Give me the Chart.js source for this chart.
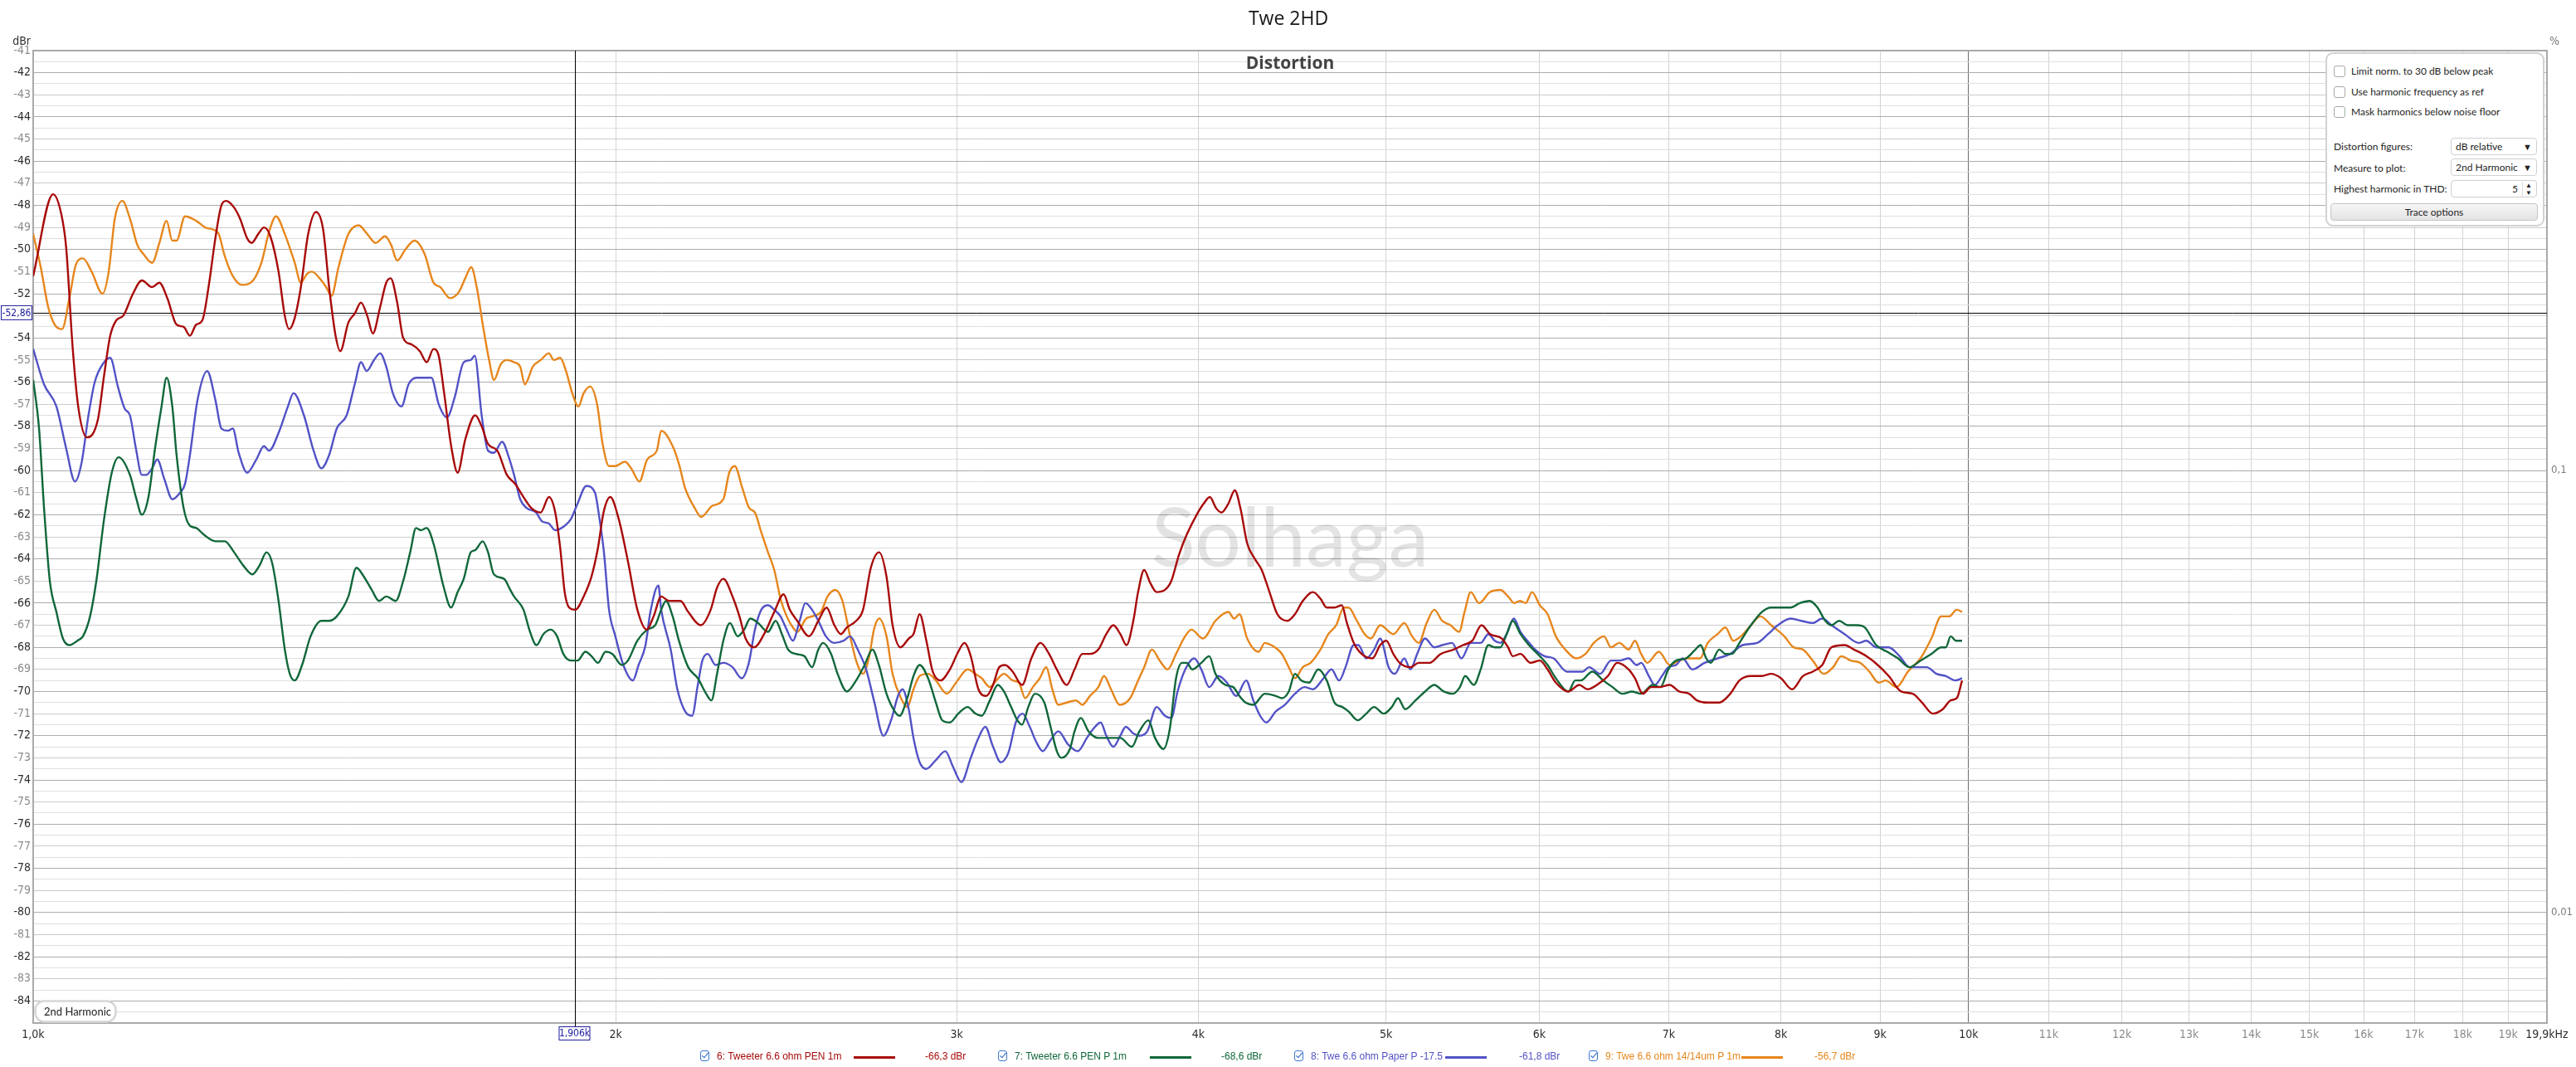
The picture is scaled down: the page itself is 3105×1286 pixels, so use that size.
<!DOCTYPE html>
<html>
<head>
<meta charset="utf-8">
<title>Twe 2HD</title>
<script src="https://cdn.jsdelivr.net/npm/chart.js@4.4.1/dist/chart.umd.min.js"></script>
<style>
  body { margin: 0; background: #fff; }
  #wrap { position: relative; width: 3105px; height: 1286px; overflow: hidden; }
  #chart { position: absolute; left: 0; top: 0; }
  #panel {
    position: absolute; left: 2803px; top: 63px; width: 264px; height: 210px;
    box-sizing: border-box; border: 2px solid #d2d2d2; border-radius: 9px; background: #fff;
    font: 12px Lato, "Open Sans", sans-serif; color: #1e1e1e;
  }
  #panel .row { position: absolute; left: 8px; height: 16px; line-height: 16px; white-space: nowrap; }
  #panel .cb {
    display: inline-block; width: 12px; height: 12px; border: 1px solid #a8a8a8; border-radius: 3px;
    vertical-align: -3px; margin-right: 7px; background: #fff;
  }
  #panel .drop {
    position: absolute; left: 149px; width: 104px; height: 21px; box-sizing: border-box;
    border: 1px solid #d0d0d0; border-radius: 4px; line-height: 19px; padding-left: 5px; background: #fff;
  }
  #panel .drop .arr { position: absolute; right: 5px; top: 0; font-size: 11px; color: #222; }
  #panel .btn {
    position: absolute; left: 4px; top: 180px; width: 250px; height: 21px; box-sizing: border-box;
    border: 1px solid #c4c4c4; border-radius: 4px; background: linear-gradient(#f6f6f6, #e3e3e3);
    text-align: center; line-height: 19px;
  }
  .lg { position: absolute; top: 1266px; height: 16px; line-height: 16px; white-space: nowrap;
        font: 12px "Liberation Sans Narrow", "Liberation Sans", Arial, sans-serif; }
  .lg-check {
    position: absolute; top: 1266px; width: 11px; height: 13px; box-sizing: border-box;
    border: 1.5px solid #3b78d4; border-radius: 3px; background: #fff;
  }
  .lg-check::after {
    content: ''; position: absolute; left: 2.5px; top: 0px; width: 3px; height: 7px;
    border: solid #2a62c8; border-width: 0 1.8px 1.8px 0; transform: rotate(40deg);
  }
  .lg-line { position: absolute; top: 1273px; width: 50px; height: 3px; }
</style>
</head>
<body>
<div id="wrap">
  <canvas id="chart" width="3105" height="1286"></canvas>
  <div id="panel">
    <div class="row" style="top:13px"><span class="cb"></span>Limit norm. to 30 dB below peak</div>
    <div class="row" style="top:38px"><span class="cb"></span>Use harmonic frequency as ref</div>
    <div class="row" style="top:62px"><span class="cb"></span>Mask harmonics below noise floor</div>
    <div class="row" style="top:104px">Distortion figures:</div>
    <div class="drop" style="top:101px">dB relative<span class="arr">&#9660;</span></div>
    <div class="row" style="top:130px">Measure to plot:</div>
    <div class="drop" style="top:126px">2nd Harmonic<span class="arr">&#9660;</span></div>
    <div class="row" style="top:155px">Highest harmonic in THD:</div>
    <div class="drop" style="top:152px; text-align:right; padding-right:22px;">5<span class="arr" style="border-left:1px solid #ddd; padding-left:3px; font-size:8px; line-height:9px; top:1px;">&#9650;<br>&#9660;</span></div>
    <div class="btn">Trace options</div>
  </div>
  <div id="legend"></div>
</div>
<script>
// ---- data (frequency in Hz, level in dBr) ----
const seriesNames = ['6: Tweeter 6.6 ohm PEN 1m', '7: Tweeter 6.6 PEN P 1m', '8: Twe 6.6 ohm Paper P -17.5', '9: Twe 6.6 ohm 14/14um P 1m'];
const seriesColors = ['#a80a0a', '#10673a', '#5252c6', '#e6861c'];
const cursorValues = ['-66,3 dBr', '-68,6 dBr', '-61,8 dBr', '-56,7 dBr'];
const cursorFreq = 1906;
const cursorLevel = -52.86;

const xTickValues = [1000, 2000, 3000, 4000, 5000, 6000, 7000, 8000, 9000, 10000, 11000, 12000, 13000, 14000, 15000, 16000, 17000, 18000, 19000, 19900];
const xTickLabels = ['1,0k', '2k', '3k', '4k', '5k', '6k', '7k', '8k', '9k', '10k', '11k', '12k', '13k', '14k', '15k', '16k', '17k', '18k', '19k', '19,9kHz'];
const pctTickValues = [-60, -80];
const pctTickLabels = ['0,1', '0,01'];

const redFreq = [1000, 1024, 1034, 1040, 1048, 1055, 1066, 1080, 1088, 1096, 1104, 1113, 1126, 1138, 1152, 1162, 1173, 1186, 1196, 1205, 1214, 1223, 1232, 1242, 1251, 1258, 1270, 1279, 1290, 1297, 1307, 1316, 1326, 1339, 1349, 1356, 1365, 1375, 1387, 1400, 1412, 1422, 1433, 1441, 1455, 1466, 1477, 1488, 1498, 1511, 1522, 1530, 1542, 1553, 1569, 1584, 1597, 1610, 1620, 1630, 1645, 1657, 1672, 1692, 1705, 1718, 1737, 1757, 1774,
  1792, 1809, 1829, 1847, 1861, 1872, 1882, 1892, 1906, 1925, 1943, 1958, 1971, 1987, 2007, 2029, 2052, 2075, 2092, 2111, 2131, 2160, 2180, 2213, 2239, 2256, 2273, 2298, 2317, 2334, 2358, 2386, 2415, 2442, 2460, 2482, 2517, 2545, 2570, 2594, 2614, 2633, 2662, 2684, 2709, 2736, 2760, 2780, 2806, 2834, 2850, 2871, 2894, 2916, 2943, 2976, 3006, 3028, 3051, 3079, 3108, 3133, 3156, 3178,
  3207, 3243, 3279, 3315, 3349, 3380, 3420, 3452, 3484, 3516, 3551, 3585, 3615, 3645, 3672, 3702, 3723, 3750, 3778, 3806, 3844, 3873, 3909, 3945, 3992, 4025, 4055, 4085, 4112, 4145, 4177, 4205, 4239, 4278, 4313, 4353, 4394, 4447, 4487, 4529, 4584, 4625, 4660, 4703, 4744, 4773, 4812, 4857, 4920, 4966, 5002, 5044, 5082, 5148, 5199, 5267, 5336, 5419, 5480, 5541, 5602, 5659,
  5739, 5782, 5814, 5868, 5938, 6005, 6060, 6120, 6212, 6293, 6355, 6451, 6511, 6583, 6674, 6724, 6787, 6854, 6918, 7008, 7087, 7171, 7238, 7332, 7433, 7531, 7614, 7719, 7820, 7907, 8000, 8106, 8211, 8308, 8402, 8495, 8628, 8725, 8855, 8976, 9094, 9229, 9357, 9462, 9584, 9698, 9789, 9861, 9923];
const redLevel = [-51.2, -47.5, -48.4, -49.9, -54.4, -57.1, -58.5, -57.7, -55.7, -53.9, -53.2, -53.0, -52.0, -51.4, -51.7, -51.5, -52.2, -53.4, -53.5, -53.9, -53.4, -53.2, -51.7, -49.5, -48.0, -47.8, -48.1, -48.6, -49.5, -49.7, -49.3, -49.0, -49.4, -51.0, -53.0, -53.6, -53.1, -51.7, -49.3, -48.3, -49.1, -51.7, -53.9, -54.6, -53.3, -52.9, -52.4, -53.0, -53.8, -52.6, -51.5, -51.3, -52.4, -54.0, -54.3, -54.6, -55.1, -54.5, -54.8, -56.4, -59.0, -60.1, -58.6, -57.5, -58.0, -58.8, -59.1, -60.2, -60.6,
  -61.2, -61.7, -61.9, -61.2, -61.9, -63.5, -65.5, -66.2, -66.3, -65.7, -64.8, -63.5, -61.9, -61.2, -62.2, -64.1, -66.3, -67.2, -66.6, -65.7, -65.9, -65.9, -66.4, -67.0, -66.3, -65.3, -64.9, -65.7, -66.6, -67.6, -68.0, -67.4, -66.4, -65.6, -66.3, -66.8, -67.5, -66.8, -66.2, -67.0, -67.4, -67.1, -66.8, -66.3, -64.4, -63.7, -64.8, -67.0, -68.0, -67.6, -67.4, -66.5, -67.7, -69.1, -69.5, -69.0, -68.2, -67.8, -68.4, -69.9, -70.2, -69.7, -68.9, -68.8,
  -69.1, -69.7, -68.5, -67.8, -68.3, -69.0, -69.7, -69.0, -68.3, -68.3, -68.1, -67.4, -67.0, -67.4, -67.9, -66.8, -65.5, -64.5, -65.1, -65.5, -65.4, -65.0, -63.8, -62.9, -62.0, -61.5, -61.2, -61.7, -61.9, -61.5, -60.9, -61.7, -63.3, -64.0, -64.5, -65.5, -66.5, -66.8, -66.5, -65.9, -65.5, -65.8, -66.2, -66.2, -66.1, -66.9, -67.8, -68.3, -68.5, -67.9, -67.7, -68.3, -68.7, -68.9, -68.7, -68.7, -68.3, -68.1, -67.9, -67.7, -67.0, -67.4,
  -67.6, -68.0, -68.4, -68.3, -68.7, -68.6, -69.0, -69.6, -70.0, -69.7, -69.9, -69.6, -69.3, -68.7, -69.0, -69.4, -70.1, -69.8, -69.8, -69.7, -70.0, -70.1, -70.4, -70.5, -70.5, -70.1, -69.5, -69.3, -69.3, -69.2, -69.4, -69.9, -69.3, -69.1, -68.8, -68.0, -67.9, -68.1, -68.4, -68.8, -69.3, -70.0, -70.1, -70.5, -71.0, -70.8, -70.4, -70.3, -69.5];

const greenFreq = [1000, 1007, 1013, 1020, 1028, 1036, 1044, 1054, 1061, 1070, 1078, 1088, 1098, 1107, 1122, 1130, 1138, 1147, 1156, 1165, 1172, 1180, 1186, 1196, 1205, 1214, 1225, 1242, 1256, 1270, 1284, 1298, 1309, 1320, 1329, 1339, 1349, 1357, 1365, 1377, 1391, 1409, 1422, 1435, 1455, 1469, 1482, 1496, 1509, 1522, 1539, 1553, 1566, 1577, 1586, 1597, 1610, 1630, 1644, 1657, 1669, 1683, 1692, 1707, 1718, 1730, 1751, 1764,
  1772, 1792, 1806, 1820, 1835, 1851, 1865, 1879, 1896, 1911, 1929, 1943, 1958, 1976, 1992, 2014, 2029, 2052, 2076, 2096, 2111, 2123, 2140, 2156, 2180, 2205, 2227, 2241, 2256, 2273, 2291, 2312, 2330, 2347, 2369, 2397, 2419, 2437, 2455, 2478, 2503, 2526, 2545, 2559, 2584, 2604, 2633, 2662, 2689, 2714, 2735, 2760, 2787, 2803, 2829, 2850, 2871, 2900, 2927, 2949, 2976, 3006, 3040, 3068, 3091, 3121, 3151, 3174,
  3201, 3225, 3243, 3267, 3293, 3330, 3355, 3380, 3398, 3433, 3452, 3478, 3510, 3551, 3591, 3645, 3695, 3729, 3769, 3799, 3837, 3866, 3895, 3923, 3945, 3971, 4014, 4052, 4082, 4130, 4169, 4200, 4231, 4270, 4329, 4386, 4418, 4454, 4487, 4521, 4563, 4613, 4660, 4703, 4747, 4782, 4835, 4884, 4930, 4987, 5035, 5072, 5116, 5179, 5238, 5296, 5355, 5415, 5460, 5494, 5551, 5596, 5648, 5691,
  5729, 5772, 5814, 5868, 5927, 6005, 6060, 6120, 6212, 6263, 6305, 6391, 6475, 6547, 6625, 6699, 6774, 6867, 6931, 6996, 7061, 7144, 7225, 7270, 7319, 7359, 7433, 7488, 7545, 7614, 7704, 7820, 7907, 8000, 8091, 8181, 8277, 8355, 8433, 8495, 8573, 8660, 8758, 8838, 8959, 9077, 9195, 9322, 9444, 9567, 9680, 9734, 9789, 9851, 9923];
const greenLevel = [-55.9, -58.1, -61.7, -65.0, -66.4, -67.6, -67.9, -67.7, -67.5, -66.6, -65.0, -62.2, -60.1, -59.4, -60.2, -61.2, -62.0, -61.2, -59.0, -57.1, -55.8, -57.1, -59.3, -61.7, -62.5, -62.6, -62.9, -63.2, -63.2, -63.7, -64.3, -64.7, -64.3, -63.7, -64.2, -65.9, -68.1, -69.2, -69.5, -68.8, -67.5, -66.8, -66.8, -66.6, -65.7, -64.4, -64.8, -65.4, -65.9, -65.7, -65.9, -65.0, -63.7, -62.6, -62.7, -62.6, -63.3, -65.3, -66.2, -65.5, -64.9, -63.7, -63.6, -63.2, -63.7, -64.7, -64.9, -65.4,
  -65.7, -66.3, -67.3, -67.9, -67.4, -67.2, -67.5, -68.3, -68.6, -68.6, -68.2, -68.4, -68.7, -68.2, -68.3, -68.8, -68.6, -67.7, -67.2, -67.0, -66.3, -65.9, -66.6, -67.7, -68.9, -69.4, -70.1, -70.4, -69.2, -67.7, -66.9, -67.5, -67.2, -66.7, -66.9, -67.3, -66.8, -67.4, -68.1, -68.3, -68.4, -68.9, -68.1, -67.8, -68.3, -69.2, -70.0, -69.5, -68.8, -68.1, -68.8, -70.1, -70.9, -71.1, -70.3, -69.3, -68.8, -69.4, -70.5, -71.3, -71.4, -71.0, -70.7, -71.0, -71.1, -70.4, -69.7, -70.0,
  -70.7, -71.3, -71.5, -70.7, -70.1, -70.5, -71.6, -72.7, -73.0, -72.6, -71.8, -71.2, -71.8, -72.1, -72.1, -72.1, -72.5, -71.8, -71.3, -72.1, -72.6, -71.7, -69.4, -68.7, -68.7, -69.0, -68.7, -68.4, -69.2, -69.7, -69.8, -70.2, -70.5, -70.6, -70.1, -70.2, -70.3, -70.0, -69.2, -69.5, -69.6, -69.0, -69.5, -70.5, -70.7, -70.9, -71.3, -71.0, -70.7, -71.0, -70.7, -70.3, -70.8, -70.4, -70.0, -69.7, -70.0, -70.1, -69.8, -69.3, -69.7, -69.0, -67.9, -68.0,
  -68.0, -67.4, -66.8, -67.4, -67.9, -68.4, -68.8, -69.4, -70.0, -69.5, -69.5, -69.1, -69.5, -69.8, -70.1, -70.0, -70.1, -69.7, -69.8, -69.0, -68.6, -68.5, -68.1, -67.9, -68.5, -68.7, -68.1, -68.3, -68.3, -67.8, -67.1, -66.4, -66.2, -66.2, -66.2, -66.0, -65.9, -66.2, -66.8, -67.0, -66.8, -67.0, -67.0, -67.1, -67.9, -68.2, -68.5, -68.9, -68.6, -68.3, -68.0, -68.0, -67.5, -67.7, -67.7];

const blueFreq = [1000, 1013, 1028, 1040, 1051, 1059, 1068, 1076, 1088, 1096, 1106, 1115, 1122, 1130, 1138, 1144, 1152, 1159, 1169, 1180, 1191, 1198, 1205, 1216, 1230, 1242, 1251, 1261, 1268, 1277, 1290, 1304, 1316, 1324, 1339, 1354, 1363, 1380, 1396, 1409, 1422, 1435, 1452, 1466, 1477, 1487, 1500, 1511, 1522, 1534, 1550, 1563, 1578, 1593, 1606, 1620, 1636, 1651, 1669, 1683, 1691, 1705, 1718, 1730, 1747, 1761,
  1772, 1785, 1799, 1819, 1832, 1847, 1861, 1882, 1896, 1911, 1931, 1951, 1961, 1972, 1984, 1999, 2018, 2041, 2055, 2072, 2084, 2104, 2111, 2135, 2152, 2172, 2190, 2205, 2217, 2231, 2252, 2273, 2298, 2323, 2343, 2360, 2378, 2397, 2415, 2433, 2451, 2469, 2489, 2506, 2526, 2545, 2568, 2594, 2623, 2643, 2667, 2694, 2719, 2750, 2775, 2798, 2813, 2834, 2850, 2871, 2894, 2927, 2960, 2987, 3017, 3051, 3079, 3104, 3133, 3162, 3186,
  3195, 3219, 3245, 3273, 3299, 3324, 3355, 3386, 3426, 3465, 3503, 3529, 3561, 3585, 3615, 3645, 3669, 3702, 3729, 3764, 3806, 3844, 3873, 3902, 3938, 3980, 4014, 4052, 4097, 4138, 4184, 4234, 4270, 4305, 4337, 4386, 4434, 4487, 4538, 4584, 4642, 4686, 4729, 4765, 4812, 4839, 4884, 4930, 4966, 5016, 5053, 5110, 5148, 5189, 5238, 5296, 5346, 5409, 5470, 5531, 5596, 5648, 5691,
  5729, 5772, 5821, 5868, 5916, 5971, 6038, 6104, 6201, 6270, 6317, 6367, 6451, 6535, 6600, 6674, 6737, 6774, 6836, 6884, 6944, 6996, 7061, 7117, 7198, 7305, 7419, 7531, 7642, 7776, 7878, 7970, 8091, 8196, 8308, 8402, 8495, 8628, 8774, 8855, 8959, 9094, 9212, 9322, 9409, 9514, 9626, 9734, 9843, 9923];
const blueLevel = [-54.5, -56.1, -57.1, -59.0, -60.5, -59.7, -57.5, -56.0, -55.1, -54.9, -56.2, -57.2, -57.5, -59.0, -60.2, -60.2, -59.9, -59.5, -60.4, -61.3, -61.0, -60.6, -59.3, -56.8, -55.5, -56.8, -58.1, -58.2, -58.1, -59.2, -60.1, -59.5, -58.9, -59.1, -58.3, -57.1, -56.5, -57.5, -59.1, -59.9, -59.3, -58.1, -57.5, -56.1, -55.1, -55.5, -55.0, -54.7, -55.3, -56.5, -57.1, -56.1, -55.8, -55.8, -55.8, -57.0, -57.6, -56.7, -55.1, -55.0, -54.8, -57.5, -59.1, -59.2, -58.7, -59.4,
  -60.2, -61.3, -61.7, -61.9, -62.3, -62.4, -62.7, -62.5, -62.2, -61.5, -60.7, -61.0, -62.1, -63.7, -66.3, -67.5, -68.8, -69.5, -68.8, -67.9, -66.4, -65.2, -66.3, -68.1, -69.9, -70.9, -71.1, -69.7, -68.6, -68.3, -68.8, -68.7, -68.9, -69.4, -68.7, -67.2, -66.3, -66.1, -66.3, -66.6, -67.2, -67.7, -66.8, -66.0, -66.3, -66.8, -67.5, -67.8, -67.7, -67.5, -68.1, -69.0, -70.4, -72.0, -71.3, -70.2, -69.9, -70.8, -72.1, -73.2, -73.5, -73.1, -72.7, -73.4, -74.1, -73.0, -72.1, -71.6, -72.5, -73.2, -72.9,
  -72.6, -71.4, -71.0, -71.6, -72.3, -72.7, -72.2, -71.8, -72.4, -72.7, -72.1, -71.7, -71.4, -72.0, -72.5, -72.0, -71.6, -71.9, -72.0, -71.8, -70.7, -71.1, -71.2, -70.0, -69.0, -68.5, -69.0, -69.8, -69.3, -69.6, -70.2, -69.5, -70.4, -71.1, -71.4, -70.9, -70.6, -70.1, -69.8, -69.9, -69.4, -69.0, -69.5, -68.9, -67.9, -67.9, -68.5, -68.1, -67.6, -68.9, -69.2, -68.5, -69.0, -68.3, -67.6, -68.0, -67.9, -67.8, -68.5, -67.8, -67.8, -67.4, -67.7,
  -67.8, -67.4, -66.7, -67.3, -67.7, -68.1, -68.4, -68.5, -69.1, -69.1, -69.1, -68.9, -69.2, -68.6, -68.6, -68.5, -68.8, -68.7, -69.3, -69.7, -69.3, -68.9, -68.8, -68.5, -69.0, -68.7, -68.5, -68.3, -67.9, -67.8, -67.4, -67.0, -66.7, -66.8, -66.9, -66.7, -67.0, -67.4, -67.8, -67.7, -68.0, -68.0, -68.4, -68.9, -68.9, -68.9, -69.2, -69.3, -69.5, -69.4];

const orangeFreq = [1000, 1009, 1018, 1026, 1035, 1044, 1052, 1061, 1072, 1086, 1094, 1102, 1112, 1122, 1132, 1140, 1152, 1162, 1172, 1180, 1186, 1198, 1214, 1227, 1239, 1247, 1256, 1268, 1282, 1299, 1312, 1324, 1335, 1349, 1365, 1375, 1385, 1393, 1406, 1417, 1426, 1438, 1455, 1473, 1488, 1503, 1520, 1531, 1542, 1557, 1574, 1593, 1610, 1623, 1642, 1660, 1672, 1684, 1695, 1708, 1721, 1730, 1744, 1757,
  1772, 1785, 1795, 1812, 1829, 1847, 1858, 1872, 1885, 1899, 1913, 1925, 1940, 1956, 1969, 1984, 1999, 2022, 2037, 2057, 2076, 2100, 2111, 2140, 2156, 2172, 2197, 2214, 2243, 2273, 2289, 2304, 2325, 2344, 2360, 2378, 2397, 2415, 2433, 2451, 2469, 2482, 2508, 2526, 2553, 2573, 2597, 2619, 2643, 2662, 2684, 2704, 2719, 2736, 2760, 2780, 2808, 2829, 2850, 2871, 2900, 2927, 2965, 2998, 3040, 3068, 3091, 3121, 3145, 3174,
  3207, 3231, 3255, 3285, 3312, 3337, 3362, 3386, 3420, 3458, 3484, 3516, 3551, 3575, 3605, 3642, 3688, 3723, 3750, 3785, 3820, 3856, 3895, 3931, 3967, 4022, 4082, 4145, 4174, 4200, 4239, 4297, 4329, 4362, 4418, 4454, 4487, 4529, 4571, 4625, 4669, 4712, 4756, 4782, 4830, 4875, 4911, 4966, 5044, 5110, 5158, 5199, 5248, 5296, 5346, 5399, 5455, 5490, 5531, 5585, 5659,
  5729, 5782, 5825, 5863, 5904, 5949, 6005, 6060, 6120, 6189, 6270, 6339, 6403, 6480, 6535, 6600, 6674, 6724, 6774, 6824, 6918, 7008, 7087, 7157, 7265, 7332, 7419, 7488, 7558, 7628, 7719, 7806, 7907, 8031, 8121, 8211, 8308, 8418, 8511, 8595, 8692, 8789, 8887, 8986, 9061, 9178, 9304, 9444, 9567, 9680, 9771, 9861, 9923];
const orangeLevel = [-49.3, -50.8, -52.6, -53.4, -53.6, -52.2, -50.7, -50.4, -51.0, -52.0, -51.0, -48.6, -47.8, -48.6, -49.8, -50.2, -50.6, -49.7, -48.7, -49.6, -49.6, -48.5, -48.7, -49.0, -49.1, -49.3, -50.3, -51.2, -51.6, -51.4, -50.6, -49.2, -48.5, -49.3, -50.6, -51.5, -51.1, -51.0, -51.3, -51.7, -52.1, -50.8, -49.3, -48.9, -49.3, -49.7, -49.4, -49.8, -50.5, -50.0, -49.6, -50.2, -51.5, -51.7, -52.2, -51.9, -51.3, -50.8, -51.7, -53.5, -55.1, -55.9, -55.2, -55.0,
  -55.1, -55.3, -56.1, -55.3, -55.0, -54.7, -55.0, -54.9, -55.5, -56.5, -57.1, -56.5, -56.2, -57.0, -58.8, -59.8, -59.8, -59.6, -59.9, -60.5, -59.5, -59.1, -58.2, -58.9, -59.7, -60.8, -61.7, -62.1, -61.6, -61.3, -60.1, -59.8, -60.8, -61.7, -61.9, -62.8, -63.7, -64.5, -65.8, -66.6, -67.1, -67.3, -66.7, -66.6, -66.4, -65.7, -65.4, -65.9, -67.5, -68.6, -69.2, -68.4, -67.2, -66.7, -67.5, -69.2, -70.3, -70.7, -69.9, -69.3, -69.2, -69.5, -70.1, -69.6, -69.0, -69.2, -69.4, -69.8, -69.5, -69.2,
  -69.5, -69.6, -70.3, -69.8, -69.4, -68.9, -69.9, -70.6, -70.5, -70.4, -70.6, -70.2, -69.8, -69.3, -69.9, -70.6, -70.3, -69.5, -68.9, -68.1, -68.6, -69.0, -68.3, -67.6, -67.2, -67.6, -66.8, -66.4, -66.7, -66.5, -67.6, -68.2, -67.8, -67.9, -68.3, -68.9, -69.4, -68.9, -68.7, -68.1, -67.4, -67.0, -66.2, -66.2, -66.8, -67.4, -67.6, -67.0, -67.4, -66.9, -67.5, -67.8, -66.9, -66.3, -66.8, -67.0, -67.3, -66.4, -65.5, -66.0, -65.5,
  -65.4, -65.7, -66.0, -65.9, -66.0, -65.5, -66.1, -66.5, -67.5, -68.1, -68.5, -68.3, -67.8, -67.5, -68.0, -67.8, -68.1, -67.7, -68.3, -68.7, -68.2, -68.8, -68.6, -68.5, -68.5, -67.8, -67.4, -67.1, -67.7, -67.5, -67.0, -66.6, -67.0, -67.5, -68.0, -68.1, -68.6, -69.2, -68.9, -68.4, -68.6, -68.7, -69.1, -69.6, -69.5, -69.8, -69.1, -68.5, -67.6, -66.6, -66.6, -66.3, -66.4];

// ---- chart ----
const narrowFont = '"Liberation Sans Narrow", "DejaVu Sans Condensed", "Liberation Sans", sans-serif';

function toPoints(freqs, levels) {
  return freqs.map((f, i) => ({ x: f, y: levels[i] }));
}

const seriesData = [
  toPoints(redFreq, redLevel),
  toPoints(greenFreq, greenLevel),
  toPoints(blueFreq, blueLevel),
  toPoints(orangeFreq, orangeLevel),
];

const decor = {
  id: 'decor',
  beforeDatasetsDraw(chart) {
    const { ctx, chartArea: a, scales: { x, y } } = chart;
    const mid = (a.left + a.right) / 2;
    ctx.save();
    // watermark
    ctx.font = '98px Lato, "Open Sans", sans-serif';
    ctx.fillStyle = 'rgba(0,0,0,0.11)';
    ctx.textAlign = 'center';
    ctx.textBaseline = 'alphabetic';
    ctx.fillText('Solhaga', mid, 683);
    // graph heading
    ctx.font = 'bold 21px "Open Sans", sans-serif';
    ctx.fillStyle = '#434343';
    ctx.textBaseline = 'middle';
    ctx.fillText('Distortion', mid, 77);
    // frame
    ctx.strokeStyle = '#a9a9a9';
    ctx.lineWidth = 2;
    ctx.strokeRect(a.left, a.top, a.right - a.left, a.bottom - a.top);
    // cursor
    const cx = Math.round(x.getPixelForValue(cursorFreq)) + 0.5;
    const cy = Math.round(y.getPixelForValue(cursorLevel)) + 0.5;
    ctx.strokeStyle = '#000';
    ctx.lineWidth = 1;
    ctx.beginPath();
    ctx.moveTo(cx, a.top);
    ctx.lineTo(cx, a.bottom + 4);
    ctx.moveTo(a.left, cy);
    ctx.lineTo(a.right, cy);
    ctx.stroke();
    ctx.restore();
  },
  afterDraw(chart) {
    const { ctx, scales: { x, y } } = chart;
    ctx.save();
    // title
    ctx.font = '23px "Open Sans", sans-serif';
    ctx.fillStyle = '#161616';
    ctx.textAlign = 'center';
    ctx.textBaseline = 'middle';
    ctx.fillText('Twe 2HD', 1553, 23);
    // axis units
    ctx.font = '14px ' + narrowFont;
    ctx.fillStyle = '#333';
    ctx.textAlign = 'right';
    ctx.fillText('dBr', 37, 50);
    ctx.textAlign = 'left';
    ctx.fillStyle = '#777';
    ctx.fillText('%', 3073, 50);
    // cursor readouts
    const cx = x.getPixelForValue(cursorFreq);
    const cy = y.getPixelForValue(cursorLevel);
    ctx.fillStyle = '#fff';
    ctx.strokeStyle = '#1c1ca0';
    ctx.lineWidth = 1;
    ctx.fillRect(1.5, cy - 8.5, 37, 17);
    ctx.strokeRect(1.5, cy - 8.5, 37, 17);
    ctx.fillRect(cx - 19.5, 1237.5, 37, 16);
    ctx.strokeRect(cx - 19.5, 1237.5, 37, 16);
    ctx.font = '12px ' + narrowFont;
    ctx.fillStyle = '#1c1ca0';
    ctx.textAlign = 'center';
    ctx.fillText(String(cursorLevel).replace('.', ','), 20, cy + 0.5);
    ctx.fillText((cursorFreq / 1000).toFixed(3).replace('.', ',') + 'k', cx - 1, 1246);
    // measure badge
    ctx.beginPath();
    ctx.roundRect(42.5, 1206.5, 97, 25, 11);
    ctx.fillStyle = '#fff';
    ctx.fill();
    ctx.strokeStyle = '#d6d6d6';
    ctx.lineWidth = 2.5;
    ctx.stroke();
    ctx.font = '13px Lato, "Open Sans", sans-serif';
    ctx.fillStyle = '#222';
    ctx.textAlign = 'left';
    ctx.fillText('2nd Harmonic', 53, 1220);
    ctx.restore();
  },
};

function isWhole(v) { return Math.abs(v - Math.round(v)) < 1e-6; }

new Chart(document.getElementById('chart'), {
  type: 'line',
  data: {
    datasets: seriesData.map((pts, i) => ({
      label: seriesNames[i],
      data: pts,
      borderColor: seriesColors[i],
      backgroundColor: seriesColors[i],
      borderWidth: 2.4,
      pointRadius: 0,
      cubicInterpolationMode: 'monotone',
      fill: false,
    })),
  },
  options: {
    responsive: false,
    devicePixelRatio: 1,
    animation: false,
    events: [],
    layout: { padding: { top: 61, left: 0, right: 0, bottom: 0 } },
    plugins: { legend: { display: false }, tooltip: { enabled: false }, title: { display: false } },
    scales: {
      x: {
        type: 'logarithmic',
        min: 1000,
        max: 19900,
        afterFit(scale) { scale.height = 53; },
        afterBuildTicks(scale) { scale.ticks = xTickValues.map((v) => ({ value: v })); },
        ticks: {
          autoSkip: false,
          maxRotation: 0,
          minRotation: 0,
          padding: 6,
          font: { family: narrowFont, size: 14 },
          color: (c) => (c.tick && c.tick.value > 10000 && c.tick.value < 19900 ? '#8c8c8c' : '#2d2d2d'),
          callback: (v, i) => xTickLabels[i],
        },
        grid: {
          drawTicks: false,
          lineWidth: 1,
          color: (c) => (c.tick && c.tick.value === 10000 ? '#6c6c6c' : '#d3d3d3'),
        },
        border: { display: false },
      },
      y: {
        type: 'linear',
        position: 'left',
        min: -85,
        max: -41,
        afterFit(scale) { scale.width = 40; },
        afterBuildTicks(scale) {
          const t = [];
          for (let v = -85; v <= -41; v += 0.5) t.push({ value: v });
          scale.ticks = t;
        },
        ticks: {
          autoSkip: false,
          padding: 3,
          font: { family: narrowFont, size: 14 },
          color: (c) => (c.tick && Math.round(c.tick.value) % 2 === 0 ? '#2d2d2d' : '#8c8c8c'),
          callback: (v) => (isWhole(v) && v > -85 ? String(v) : ''),
        },
        grid: {
          drawTicks: false,
          lineWidth: 1,
          color: (c) => {
            const v = c.tick ? c.tick.value : 0;
            if (!isWhole(v)) return '#dfdfdf';
            return Math.round(v) % 2 === 0 ? '#adadad' : '#cbcbcb';
          },
        },
        border: { display: false },
      },
      pct: {
        type: 'linear',
        position: 'right',
        min: -85,
        max: -41,
        afterFit(scale) { scale.width = 35; },
        afterBuildTicks(scale) { scale.ticks = pctTickValues.map((v) => ({ value: v })); },
        ticks: {
          autoSkip: false,
          padding: 5,
          font: { family: narrowFont, size: 13 },
          color: '#7a7a7a',
          callback: (v, i) => pctTickLabels[i],
        },
        grid: { display: false, drawTicks: false },
        border: { display: false },
      },
    },
  },
  plugins: [decor],
});

// ---- bottom legend ----
const legendCheckX = [844, 1203, 1560, 1915];
const legendLineX = [1029, 1386, 1742, 2099];
const legendValueX = [1115, 1472, 1831, 2187];
const legendBox = document.getElementById('legend');
seriesNames.forEach((name, i) => {
  const cb = document.createElement('span');
  cb.className = 'lg-check';
  cb.style.left = legendCheckX[i] + 'px';
  legendBox.appendChild(cb);

  const txt = document.createElement('span');
  txt.className = 'lg';
  txt.style.left = (legendCheckX[i] + 20) + 'px';
  txt.style.color = seriesColors[i];
  txt.textContent = name;
  legendBox.appendChild(txt);

  const ln = document.createElement('span');
  ln.className = 'lg-line';
  ln.style.left = legendLineX[i] + 'px';
  ln.style.background = seriesColors[i];
  legendBox.appendChild(ln);

  const val = document.createElement('span');
  val.className = 'lg';
  val.style.left = legendValueX[i] + 'px';
  val.style.color = seriesColors[i];
  val.textContent = cursorValues[i];
  legendBox.appendChild(val);
});
</script>
</body>
</html>
